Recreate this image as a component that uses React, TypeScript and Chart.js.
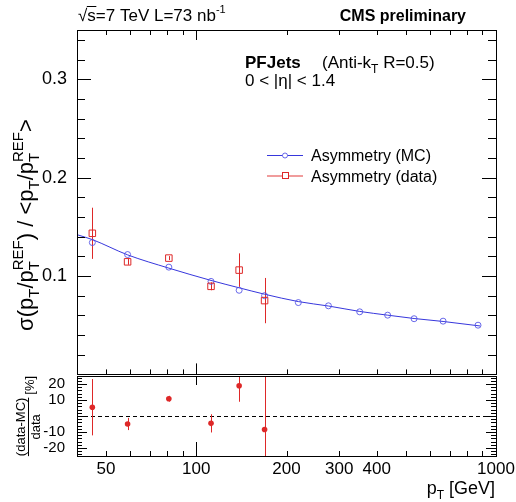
import React, { useEffect, useRef } from 'react';
import { Chart, registerables } from 'chart.js';
Chart.register(...registerables);

// ---------------- data ----------------
const ptMC = [45, 59, 81, 112, 139, 169, 219, 276, 351, 435, 533, 666, 871];
const asymMC = [0.134, 0.1218, 0.109, 0.0945, 0.0855, 0.08, 0.073, 0.0697, 0.0636, 0.0602, 0.0566, 0.0541, 0.05];
const ptData = [45, 59, 81, 112, 139, 169];
const asymData = [0.1434, 0.1144, 0.1182, 0.0895, 0.106, 0.075];
const asymDataErr = [0.026, 0.003, 0.002, 0.004, 0.017, 0.023];
const ratioPct = [5.5, -5.0, 10.8, -4.6, 18.9, -8.4];
const ratioPctErr = [17.6, 3.8, 1.8, 5.7, 10, 35];
const fitPt = [40, 45, 59, 81, 112, 139, 169, 219, 276, 351, 435, 533, 666, 886];
const fitAsym = [0.142, 0.137, 0.1215, 0.108, 0.0955, 0.088, 0.0815, 0.074, 0.0695, 0.064, 0.0602, 0.0568, 0.0538, 0.0492];
const xTickLabels = [50, 100, 200, 300, 400, 1000];
const xTickValues = [40, 50, 60, 70, 80, 90, 100, 200, 300, 400, 500, 600, 700, 800, 900, 1000];
const xMajorTicks = [100, 1000];
const yMainTickLabels = [0.1, 0.2, 0.3];
const yRatioTickLabels = [-20, -10, 10, 20];

// ---------------- helpers ----------------
const F = '"Liberation Sans", Arial, Helvetica, sans-serif';
const fnt = (s: number, b = false) => `${b ? 'bold ' : ''}${s}px ${F}`;
const BLUE_LINE = 'rgb(55,55,220)';
const BLUE_MARK = 'rgba(80,80,230,0.85)';
const RED = 'rgb(222,40,40)';

type Seg = { t?: string; s?: number; b?: boolean; sub?: string; sup?: string; ss?: number };

function segW(ctx: CanvasRenderingContext2D, g: Seg, base: number) {
  if (g.sub !== undefined || g.sup !== undefined) {
    ctx.font = fnt(g.ss ?? Math.round(base * 0.7));
    return Math.max(g.sub ? ctx.measureText(g.sub).width : 0, g.sup ? ctx.measureText(g.sup).width : 0);
  }
  ctx.font = fnt(g.s ?? base, g.b);
  return ctx.measureText(g.t ?? '').width;
}

function drawRich(ctx: CanvasRenderingContext2D, segs: Seg[], x: number, y: number, base: number, align: 'left' | 'right' | 'center' = 'left') {
  const ws = segs.map((g) => segW(ctx, g, base));
  const total = ws.reduce((a, b) => a + b, 0);
  let cx = align === 'left' ? x : align === 'right' ? x - total : x - total / 2;
  ctx.fillStyle = '#000';
  ctx.textAlign = 'left';
  ctx.textBaseline = 'alphabetic';
  segs.forEach((g, i) => {
    if (g.sub !== undefined || g.sup !== undefined) {
      ctx.font = fnt(g.ss ?? Math.round(base * 0.7));
      if (g.sub) ctx.fillText(g.sub, cx, y + base * 0.28);
      if (g.sup) ctx.fillText(g.sup, cx, y - base * 0.45);
    } else {
      ctx.font = fnt(g.s ?? base, g.b);
      ctx.fillText(g.t ?? '', cx, y);
    }
    cx += ws[i];
  });
  return total;
}

function line(ctx: CanvasRenderingContext2D, x1: number, y1: number, x2: number, y2: number) {
  ctx.beginPath();
  ctx.moveTo(x1, y1);
  ctx.lineTo(x2, y2);
  ctx.stroke();
}

function drawFrameAndXTicks(ctx: CanvasRenderingContext2D, chart: any, topMinor: number, topMajor: number, botMinor: number, botMajor: number) {
  const { left, right, top, bottom } = chart.chartArea;
  const xs = chart.scales.x;
  ctx.strokeStyle = '#000';
  ctx.lineWidth = 1;
  ctx.strokeRect(Math.round(left) + 0.5, Math.round(top) + 0.5, Math.round(right - left), Math.round(bottom - top));
  xTickValues.forEach((v) => {
    const px = Math.round(xs.getPixelForValue(v)) + 0.5;
    const major = xMajorTicks.includes(v);
    const lt = major ? topMajor : topMinor;
    const lb = major ? botMajor : botMinor;
    if (lt > 0) line(ctx, px, top, px, top + lt);
    if (lb > 0) line(ctx, px, bottom, px, bottom - lb);
  });
}

// ---------------- main panel plugin ----------------
const mainPlugin = {
  id: 'mainDecor',
  beforeDatasetsDraw(chart: any) {
    const ctx: CanvasRenderingContext2D = chart.ctx;
    const xs = chart.scales.x, ys = chart.scales.y;
    const a = chart.chartArea;
    ctx.save();
    ctx.beginPath();
    ctx.rect(a.left, a.top, a.right - a.left, a.bottom - a.top);
    ctx.clip();
    ctx.strokeStyle = RED;
    ctx.lineWidth = 1;
    ptData.forEach((p, i) => {
      const px = Math.round(xs.getPixelForValue(p)) + 0.5;
      line(ctx, px, ys.getPixelForValue(asymData[i] + asymDataErr[i]), px, ys.getPixelForValue(asymData[i] - asymDataErr[i]));
    });
    ctx.restore();
  },
  afterDraw(chart: any) {
    const ctx: CanvasRenderingContext2D = chart.ctx;
    const { left, right } = chart.chartArea;
    const ys = chart.scales.y;
    ctx.save();
    drawFrameAndXTicks(ctx, chart, 5, 10, 5, 11);
    for (let k = 1; k <= 17; k++) {
      const py = Math.round(ys.getPixelForValue(k * 0.02)) + 0.5;
      const len = k % 5 === 0 ? 14 : 8;
      line(ctx, left, py, left + len, py);
      line(ctx, right, py, right - len, py);
    }

    // header texts
    ctx.fillStyle = '#000';
    ctx.textBaseline = 'alphabetic';
    ctx.textAlign = 'left';
    ctx.font = fnt(17);
    const x0 = 78, by = 21;
    const wSq = ctx.measureText('\u221A').width;
    ctx.fillText('\u221A', x0, by);
    const wS = ctx.measureText('s').width;
    ctx.fillText('s', x0 + wSq, by);
    ctx.lineWidth = 1;
    line(ctx, x0 + wSq - 0.5, by - 14.5, x0 + wSq + wS + 0.5, by - 14.5);
    drawRich(ctx, [{ t: '=7 TeV L=73 nb' }, { sup: '-1', ss: 11 }], x0 + wSq + wS, by, 17);

    ctx.font = fnt(16, true);
    ctx.textAlign = 'right';
    ctx.fillText('CMS preliminary', 466, 21);

    drawRich(ctx, [{ t: 'PFJets', b: true }], 245, 68, 17);
    drawRich(ctx, [{ t: '(Anti-k' }, { sub: 'T', ss: 12 }, { t: ' R=0.5)' }], 322, 68, 17);
    drawRich(ctx, [{ t: '0 < |\u03B7| < 1.4' }], 245, 86, 17);

    // legend
    ctx.strokeStyle = BLUE_LINE;
    ctx.lineWidth = 1;
    line(ctx, 267, 155.5, 303, 155.5);
    ctx.strokeStyle = BLUE_MARK;
    ctx.fillStyle = '#fff';
    ctx.beginPath();
    ctx.arc(285, 155.5, 2.5, 0, Math.PI * 2);
    ctx.fill();
    ctx.stroke();
    ctx.strokeStyle = 'rgba(230,90,90,0.6)';
    ctx.lineWidth = 2;
    line(ctx, 267, 176, 303, 176);
    ctx.lineWidth = 1;
    ctx.strokeStyle = RED;
    ctx.fillStyle = '#fff';
    ctx.fillRect(282, 173, 6, 6);
    ctx.strokeRect(282.5, 172.5, 6, 6);
    drawRich(ctx, [{ t: 'Asymmetry (MC)' }], 311, 161, 16);
    drawRich(ctx, [{ t: 'Asymmetry (data)' }], 311, 182, 16);

    // y title
    ctx.translate(33, 225);
    ctx.rotate(-Math.PI / 2);
    drawRich(
      ctx,
      [
        { t: '\u03C3(p' }, { sub: 'T' }, { t: '/p' }, { sub: 'T', sup: 'REF' },
        { t: ') / <p' }, { sub: 'T' }, { t: '/p' }, { sub: 'T', sup: 'REF' }, { t: '>' },
      ],
      0, 0, 22, 'center'
    );
    ctx.restore();
  },
};

// ---------------- ratio panel plugin ----------------
const ratioPlugin = {
  id: 'ratioDecor',
  beforeDatasetsDraw(chart: any) {
    const ctx: CanvasRenderingContext2D = chart.ctx;
    const xs = chart.scales.x, ys = chart.scales.y;
    const a = chart.chartArea;
    ctx.save();
    ctx.beginPath();
    ctx.rect(a.left, a.top, a.right - a.left, a.bottom - a.top);
    ctx.clip();
    ctx.strokeStyle = '#000';
    ctx.lineWidth = 1;
    ctx.setLineDash([4, 3]);
    const y0 = Math.round(ys.getPixelForValue(0)) + 0.5;
    line(ctx, a.left, y0, a.right, y0);
    ctx.setLineDash([]);
    ctx.strokeStyle = RED;
    ptData.forEach((p, i) => {
      const px = Math.round(xs.getPixelForValue(p)) + 0.5;
      line(ctx, px, ys.getPixelForValue(ratioPct[i] + ratioPctErr[i]), px, ys.getPixelForValue(ratioPct[i] - ratioPctErr[i]));
    });
    ctx.restore();
  },
  afterDraw(chart: any) {
    const ctx: CanvasRenderingContext2D = chart.ctx;
    const { left, right } = chart.chartArea;
    const ys = chart.scales.y;
    ctx.save();
    drawFrameAndXTicks(ctx, chart, 0, 9, 5, 14);
    for (let v = -24; v <= 24; v += 2) {
      const py = Math.round(ys.getPixelForValue(v)) + 0.5;
      const len = v % 10 === 0 ? 10 : 5;
      line(ctx, left, py, left + len, py);
      line(ctx, right, py, right - len, py);
    }
    // x title
    drawRich(ctx, [{ t: 'p' }, { sub: 'T', ss: 12 }, { t: ' [GeV]' }], 495, 124, 18, 'right');

    // y title: fraction
    ctx.translate(28, 46);
    ctx.rotate(-Math.PI / 2);
    ctx.font = fnt(13);
    ctx.fillStyle = '#000';
    ctx.textAlign = 'left';
    ctx.textBaseline = 'alphabetic';
    const nW = ctx.measureText('(data-MC)').width;
    const dW = ctx.measureText('data').width;
    const pW = ctx.measureText('[%]').width;
    const gap = 3;
    const total = nW + gap + pW;
    const fx = -total / 2;
    ctx.fillText('(data-MC)', fx, -3);
    ctx.strokeStyle = '#000';
    ctx.lineWidth = 1;
    line(ctx, fx, 0.5, fx + nW, 0.5);
    ctx.fillText('data', fx + (nW - dW) / 2, 12);
    ctx.fillText('[%]', fx + nW + gap, 6);
    ctx.restore();
  },
};

export default function App() {
  const r1 = useRef<HTMLCanvasElement>(null);
  const r2 = useRef<HTMLCanvasElement>(null);

  useEffect(() => {
    const c1 = new Chart(r1.current as HTMLCanvasElement, {
      type: 'scatter',
      data: {
        datasets: [
          {
            label: 'Asymmetry (data)',
            data: ptData.map((p, i) => ({ x: p, y: asymData[i] })),
            pointStyle: 'rect',
            pointRadius: 4.6,
            borderColor: RED,
            backgroundColor: 'rgba(0,0,0,0)',
            borderWidth: 1,
          },
          {
            label: 'Asymmetry (MC)',
            data: ptMC.map((p, i) => ({ x: p, y: asymMC[i] })),
            pointStyle: 'circle',
            pointRadius: 3,
            borderColor: BLUE_MARK,
            backgroundColor: 'rgba(0,0,0,0)',
            borderWidth: 1,
          },
          {
            label: 'fit',
            data: fitPt.map((p, i) => ({ x: p, y: fitAsym[i] })),
            showLine: true,
            pointRadius: 0,
            borderColor: BLUE_LINE,
            borderWidth: 1,
            tension: 0.4,
            cubicInterpolationMode: 'monotone',
          } as any,
        ],
      },
      options: {
        animation: false,
        responsive: false,
        maintainAspectRatio: false,
        events: [],
        layout: { padding: { left: 0, right: 20, top: 30, bottom: 4 } },
        plugins: { legend: { display: false }, tooltip: { enabled: false } },
        scales: {
          x: { type: 'logarithmic', min: 40, max: 1000, display: false },
          y: {
            type: 'linear',
            min: 0,
            max: 0.35,
            grid: { display: false, drawTicks: false },
            border: { display: false },
            ticks: {
              stepSize: 0.1,
              padding: 10,
              color: '#000',
              font: { family: F, size: 18 },
              callback: (v: any) => (yMainTickLabels.some((t) => Math.abs(t - Number(v)) < 1e-6) ? Number(v).toFixed(1) : null),
            },
            afterFit: (s: any) => {
              s.width = 77;
              s.paddingTop = 0;
              s.paddingBottom = 0;
            },
          },
        },
      } as any,
      plugins: [mainPlugin],
    });

    const c2 = new Chart(r2.current as HTMLCanvasElement, {
      type: 'scatter',
      data: {
        datasets: [
          {
            label: 'ratio',
            data: ptData.map((p, i) => ({ x: p, y: ratioPct[i] })),
            pointStyle: 'circle',
            pointRadius: 2.8,
            borderColor: RED,
            backgroundColor: RED,
            borderWidth: 0,
          },
        ],
      },
      options: {
        animation: false,
        responsive: false,
        maintainAspectRatio: false,
        events: [],
        layout: { padding: { left: 0, right: 20, top: 6, bottom: 0 } },
        plugins: { legend: { display: false }, tooltip: { enabled: false } },
        scales: {
          x: {
            type: 'logarithmic',
            min: 40,
            max: 1000,
            grid: { display: false, drawTicks: false },
            border: { display: false },
            ticks: {
              autoSkip: false,
              maxRotation: 0,
              padding: 3,
              color: '#000',
              font: { family: F, size: 17 },
              callback: (v: any) => (xTickLabels.some((t) => Math.abs(t - Number(v)) < 1e-6) ? String(Math.round(Number(v))) : null),
            },
            afterFit: (s: any) => {
              s.height = 46;
              s.paddingLeft = 0;
              s.paddingRight = 0;
            },
          },
          y: {
            type: 'linear',
            min: -25,
            max: 25,
            grid: { display: false, drawTicks: false },
            border: { display: false },
            ticks: {
              stepSize: 5,
              padding: 12,
              color: '#000',
              font: { family: F, size: 15 },
              callback: (v: any) => (yRatioTickLabels.some((t) => Math.abs(t - Number(v)) < 1e-6) ? String(Number(v)) : null),
            },
            afterFit: (s: any) => {
              s.width = 77;
              s.paddingTop = 0;
              s.paddingBottom = 0;
            },
          },
        },
      } as any,
      plugins: [ratioPlugin],
    });

    return () => {
      c1.destroy();
      c2.destroy();
    };
  }, []);

  return (
    <div style={{ position: 'absolute', left: 0, top: 0, width: 516, height: 502, background: '#fff' }}>
      <canvas ref={r1} width={516} height={380} style={{ position: 'absolute', left: 0, top: 0, display: 'block' }} />
      <canvas ref={r2} width={516} height={132} style={{ position: 'absolute', left: 0, top: 370, display: 'block' }} />
    </div>
  );
}
